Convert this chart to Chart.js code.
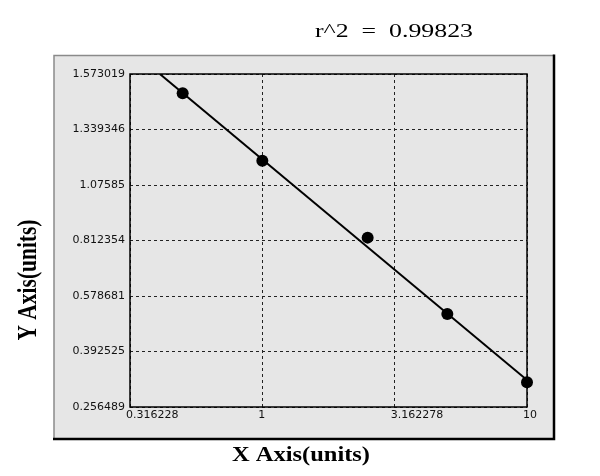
<!DOCTYPE html>
<html>
<head>
<meta charset="utf-8">
<script src="https://cdn.jsdelivr.net/npm/chart.js@4/dist/chart.umd.min.js"></script>
<style>
  html, body { margin: 0; padding: 0; background: #ffffff; }
  #wrap { width: 600px; height: 476px; position: relative; }
</style>
</head>
<body>
<div id="wrap"><canvas id="c"></canvas></div>
<script>
// ---- data ----
const X_TICKS = [0.316228, 1, 3.162278, 10];
const X_TICK_LABELS = ['0.316228', '1', '3.162278', '10'];
const Y_TICKS = [0.256489, 0.392525, 0.578681, 0.812354, 1.07585, 1.339346, 1.573019];
const Y_TICK_LABELS = ['0.256489', '0.392525', '0.578681', '0.812354', '1.07585', '1.339346', '1.573019'];
const concentration = [0.5, 1, 2.5, 5, 10];
const response = [1.492, 1.191, 0.826, 0.518, 0.317];
const fitX = [0.41, 10];
const fitY = [1.573019, 0.3226];
const TITLE = 'r^2  =  0.99823';
const X_TITLE = 'X Axis(units)';
const Y_TITLE = 'Y Axis(units)';

// ---- piecewise-linear scale: tick values equally spaced ----
class PiecewiseScale extends Chart.LinearScale {
  static id = 'piecewise';
  buildTicks() {
    return Y_TICKS.map(v => ({ value: v }));
  }
  _frac(v) {
    const t = Y_TICKS, n = t.length - 1;
    if (v <= t[0]) return ((v - t[0]) / (t[1] - t[0])) / n;
    for (let i = 0; i < n; i++) {
      if (v <= t[i + 1]) return (i + (v - t[i]) / (t[i + 1] - t[i])) / n;
    }
    return (n - 1 + (v - t[n - 1]) / (t[n] - t[n - 1])) / n;
  }
  getPixelForValue(v) {
    if (v === null || v === undefined || isNaN(v)) return NaN;
    return this.getPixelForDecimal(this._frac(v));
  }
  getValueForPixel(p) {
    const n = Y_TICKS.length - 1;
    const d = this.getDecimalForPixel(p) * n;
    const i = Math.max(0, Math.min(n - 1, Math.floor(d)));
    return Y_TICKS[i] + (d - i) * (Y_TICKS[i + 1] - Y_TICKS[i]);
  }
}
Chart.register(PiecewiseScale);

function stretchText(ctx, text, font, x, y, targetW, sy, rot) {
  ctx.save();
  ctx.font = font;
  ctx.fillStyle = '#000';
  ctx.textAlign = 'center';
  ctx.textBaseline = 'alphabetic';
  const w = ctx.measureText(text).width;
  ctx.translate(x, y);
  if (rot) ctx.rotate(rot);
  ctx.scale(targetW / w, sy);
  ctx.fillText(text, 0, 0);
  ctx.restore();
}

const decor = {
  id: 'decor',
  beforeDraw(chart) {
    const ctx = chart.ctx;
    ctx.save();
    ctx.fillStyle = '#ffffff';
    ctx.fillRect(0, 0, chart.width, chart.height);
    // panel
    ctx.fillStyle = '#e6e6e6';
    ctx.fillRect(54, 55, 500, 384);
    ctx.strokeStyle = '#8a8a8a';
    ctx.lineWidth = 1.5;
    ctx.beginPath();
    ctx.moveTo(54, 439); ctx.lineTo(54, 55.5); ctx.lineTo(554, 55.5);
    ctx.stroke();
    ctx.strokeStyle = '#000';
    ctx.lineWidth = 2.5;
    ctx.beginPath();
    ctx.moveTo(554, 54.5); ctx.lineTo(554, 439); ctx.lineTo(53, 439);
    ctx.stroke();
    ctx.restore();
  },
  beforeDatasetsDraw(chart) {
    const ctx = chart.ctx, a = chart.chartArea;
    ctx.save();
    ctx.strokeStyle = '#000';
    ctx.lineWidth = 1.5;
    ctx.strokeRect(a.left, a.top, a.right - a.left, a.bottom - a.top);
    ctx.restore();
  },
  afterDraw(chart) {
    const ctx = chart.ctx;
    stretchText(ctx, TITLE, '18px "Liberation Serif"', 394, 37, 158, 1, 0);
    stretchText(ctx, X_TITLE, 'bold 20px "Liberation Serif"', 301, 461, 138, 1, 0);
    stretchText(ctx, Y_TITLE, 'bold 20px "Liberation Serif"', 36, 280, 121, 1.4, -Math.PI / 2);
  }
};

const gridCommon = { color: '#222', lineWidth: 1, drawTicks: false };
const tickFont = { family: '"DejaVu Sans"', size: 11 };

new Chart(document.getElementById('c'), {
  type: 'scatter',
  data: {
    datasets: [
      {
        label: 'fit',
        data: fitX.map((x, i) => ({ x, y: fitY[i] })),
        showLine: true,
        borderColor: '#000',
        borderWidth: 2,
        pointRadius: 0,
        fill: false
      },
      {
        label: 'standards',
        data: concentration.map((x, i) => ({ x, y: response[i] })),
        showLine: false,
        pointRadius: 6,
        pointStyle: 'circle',
        backgroundColor: '#000',
        borderColor: '#000',
        borderWidth: 0,
        clip: false
      }
    ]
  },
  options: {
    responsive: true,
    maintainAspectRatio: false,
    animation: false,
    events: [],
    layout: { padding: { top: 74, right: 73, bottom: 0, left: 0 } },
    plugins: { legend: { display: false }, tooltip: { enabled: false }, title: { display: false } },
    scales: {
      x: {
        type: 'logarithmic',
        bounds: 'data',
        min: X_TICKS[0],
        max: X_TICKS[X_TICKS.length - 1],
        afterBuildTicks(scale) {
          scale.ticks = X_TICKS.map(v => ({ value: v }));
          scale.min = X_TICKS[0];
          scale.max = X_TICKS[X_TICKS.length - 1];
        },
        afterFit(scale) { scale.height = 69; },
        grid: gridCommon,
        border: { display: false, dash: [3, 3] },
        ticks: {
          autoSkip: false, maxRotation: 0, minRotation: 0,
          align: 'start', labelOffset: -4, padding: 2,
          color: '#111', font: tickFont,
          callback: (v, i) => X_TICK_LABELS[i]
        }
      },
      y: {
        type: 'piecewise',
        min: Y_TICKS[0],
        max: Y_TICKS[Y_TICKS.length - 1],
        afterFit(scale) { scale.width = 130; },
        grid: gridCommon,
        border: { display: false, dash: [3, 3] },
        ticks: {
          autoSkip: false, padding: 5,
          color: '#111', font: tickFont,
          callback: (v, i) => Y_TICK_LABELS[i]
        }
      }
    }
  },
  plugins: [decor]
});
</script>
</body>
</html>
